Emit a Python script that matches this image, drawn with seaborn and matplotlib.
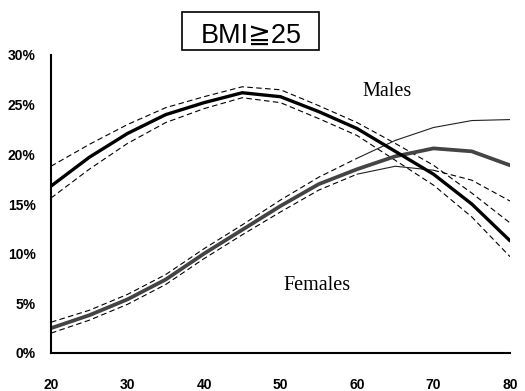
import matplotlib
matplotlib.use("Agg")
import matplotlib.pyplot as plt
import seaborn as sns
import pandas as pd
from matplotlib.patches import Rectangle

# ---- data (percent with BMI >= 25, by age) ----
ages = [20, 25, 30, 35, 40, 45, 50, 55, 60, 65, 70, 75, 80]
male = [16.8, 19.7, 22.1, 24.0, 25.2, 26.2, 25.8, 24.3, 22.6, 20.3, 18.0, 15.0, 11.3]
male_hi = [18.8, 21.0, 23.0, 24.7, 25.8, 26.8, 26.5, 24.9, 23.2, 21.1, 18.9, 16.1, 13.1]
male_lo = [15.6, 18.5, 21.1, 23.2, 24.6, 25.7, 25.2, 23.6, 21.9, 19.4, 16.9, 13.7, 9.7]
female = [2.5, 3.8, 5.4, 7.4, 10.0, 12.4, 14.8, 17.0, 18.5, 19.8, 20.6, 20.3, 18.9]
female_hi = [3.1, 4.3, 5.9, 7.9, 10.5, 12.9, 15.4, 17.7, 19.6, 21.4, 22.7, 23.4, 23.5]
female_lo = [2.0, 3.3, 4.9, 6.9, 9.5, 11.9, 14.2, 16.4, 18.0, 18.8, 18.4, 17.4, 15.3]

x_ticks = [20, 30, 40, 50, 60, 70, 80]
y_ticks = [0, 5, 10, 15, 20, 25, 30]
y_tick_labels = ["0%", "5%", "10%", "15%", "20%", "25%", "30%"]
title_text = "BMI\u226725"
male_label = "Males"
female_label = "Females"

sns.set_style("white")
plt.rcParams["font.family"] = ["Liberation Sans", "DejaVu Sans"]

fig = plt.figure(figsize=(5.25, 3.91), dpi=100)
ax = fig.add_axes([51 / 525, 38 / 391, 459 / 525, 298 / 391])

df = pd.DataFrame({"age": ages, "male": male, "male_hi": male_hi, "male_lo": male_lo,
                   "female": female, "female_hi": female_hi, "female_lo": female_lo})

dash = (5, 3)
ci_kw = dict(color="black", linewidth=0.8)

# male CIs (dashed)
sns.lineplot(data=df, x="age", y="male_hi", ax=ax, **ci_kw).lines[-1].set_dashes(dash)
sns.lineplot(data=df, x="age", y="male_lo", ax=ax, **ci_kw).lines[-1].set_dashes(dash)

# female CIs: dashed at younger ages, thin solid in older ages
d1 = df[df.age <= 60]
d2 = df[df.age >= 60]
d3 = df[(df.age >= 60) & (df.age <= 70)]
d4 = df[df.age >= 70]
sns.lineplot(data=d1, x="age", y="female_hi", ax=ax, **ci_kw).lines[-1].set_dashes(dash)
sns.lineplot(data=d2, x="age", y="female_hi", ax=ax, color="#222222", linewidth=0.8)
sns.lineplot(data=d1, x="age", y="female_lo", ax=ax, **ci_kw).lines[-1].set_dashes(dash)
sns.lineplot(data=d3, x="age", y="female_lo", ax=ax, color="#222222", linewidth=0.8)
sns.lineplot(data=d4, x="age", y="female_lo", ax=ax, **ci_kw).lines[-1].set_dashes(dash)

# main curves
sns.lineplot(data=df, x="age", y="female", ax=ax, color="#444444", linewidth=2.7)
sns.lineplot(data=df, x="age", y="male", ax=ax, color="black", linewidth=2.4)

ax.set_xlim(20, 80)
ax.set_ylim(0, 30)
ax.set_xticks(x_ticks)
ax.set_xticklabels([str(t) for t in x_ticks], fontsize=10, fontweight="bold")
ax.set_yticks(y_ticks)
ax.set_yticklabels(y_tick_labels, fontsize=10, fontweight="bold")
ax.set_xlabel("")
ax.set_ylabel("")
ax.tick_params(axis="x", direction="in", length=5, width=1, pad=18, colors="black")
ax.tick_params(axis="y", direction="in", length=5, width=1, pad=11, colors="black")
for s in ["top", "right"]:
    ax.spines[s].set_visible(False)
for s in ["left", "bottom"]:
    ax.spines[s].set_color("black")
    ax.spines[s].set_linewidth(1.5)

ax.text(63.9, 26.3, male_label, fontsize=14.5, family="Liberation Serif",
        ha="center", va="center", color="black")
ax.text(54.8, 6.8, female_label, fontsize=14.5, family="Liberation Serif",
        ha="center", va="center", color="black")

# title box
fig.patches.append(Rectangle((182 / 525, 1 - 50 / 391), 137 / 525, 38 / 391,
                             transform=fig.transFigure, fill=False,
                             edgecolor="black", linewidth=1.2))
fig.text(251 / 525, 1 - 36 / 391, title_text, fontsize=19.5, ha="center", va="center",
         family=["Liberation Sans", "DejaVu Sans"], color="black")

fig.savefig("out.png", dpi=100)
